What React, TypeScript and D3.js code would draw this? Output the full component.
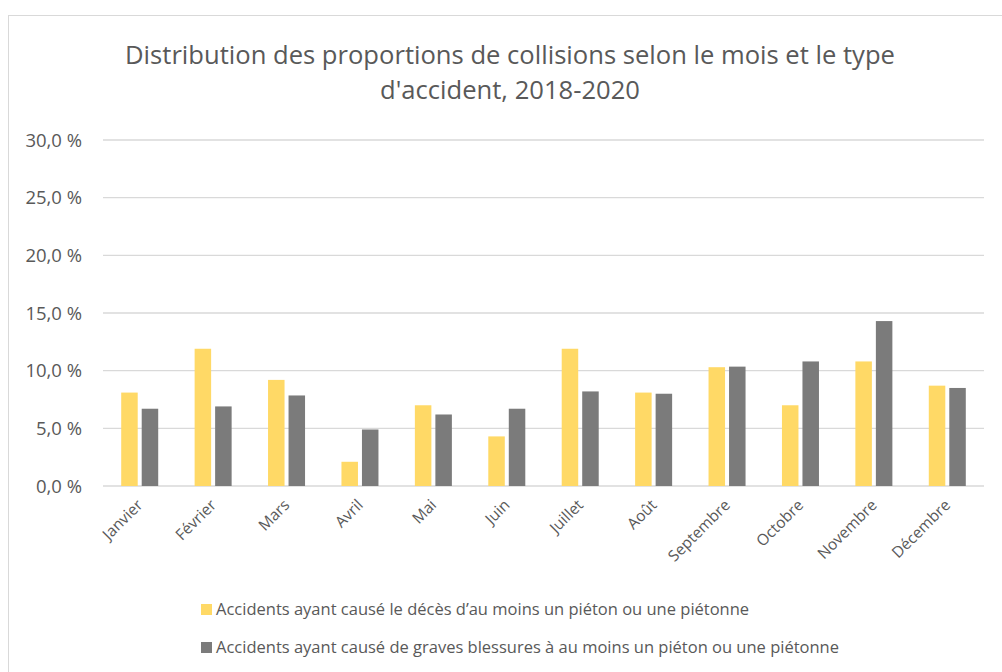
import React from "react";
import * as d3 from "d3";

const months = ["Janvier","Février","Mars","Avril","Mai","Juin","Juillet","Août","Septembre","Octobre","Novembre","Décembre"];
const seriesNames = [
  "Accidents ayant causé le décès d’au moins un piéton ou une piétonne",
  "Accidents ayant causé de graves blessures à au moins un piéton ou une piétonne",
];
const deces = [8.1, 11.9, 9.2, 2.1, 7.0, 4.3, 11.9, 8.1, 10.3, 7.0, 10.8, 8.7];
const blessures = [6.7, 6.9, 7.85, 4.9, 6.2, 6.7, 8.2, 8.0, 10.35, 10.8, 14.3, 8.5];
const yTicks = [0, 5, 10, 15, 20, 25, 30];
const colors = ["#FFD966", "#7B7B7B"];
const titleLines = ["Distribution des proportions de collisions selon le mois et le type", "d'accident, 2018-2020"];

const FONT = "'Open Sans', sans-serif";
const TXT = "#595959";

export default function App() {
  const W = 1002, H = 672;
  const left = 103, right = 984, top = 140, bottom = 486;
  const x0 = d3.scaleBand<string>().domain(months).range([left, right]).paddingInner(0).paddingOuter(0);
  const x1 = d3.scaleBand<number>().domain([0, 1]).range([0, x0.bandwidth()]).paddingInner(0.195).paddingOuter(0.888);
  const y = d3.scaleLinear().domain([0, 30]).range([bottom, top]);
  const series = [deces, blessures];
  const fmt = (v: number) => d3.format(".1f")(v).replace(".", ",") + " %";

  return (
    <svg width={W} height={H} style={{ position: "absolute", left: 0, top: 0, background: "#fff" }}>
      <rect x={8.5} y={15.5} width={W} height={H} fill="#fff" stroke="#D9D9D9" strokeWidth={1} />
      <g fontFamily={FONT} fill={TXT}>
        {titleLines.map((t, i) => (
          <text key={i} x={510} y={64 + i * 35} textAnchor="middle" fontSize={25.6}>{t}</text>
        ))}
      </g>
      {yTicks.map((t) => (
        <g key={t}>
          <line x1={left} x2={right} y1={y(t)} y2={y(t)} stroke="#D9D9D9" strokeWidth={1.3} />
          <text x={82} y={y(t)} dy="0.36em" textAnchor="end" fontFamily={FONT} fontSize={18.5} fill={TXT}>{fmt(t)}</text>
        </g>
      ))}
      {series.map((vals, si) => (
        <g key={si}>
          {vals.map((v, i) => (
            <rect key={i} x={(x0(months[i]) as number) + (x1(si) as number)} y={y(v)} width={x1.bandwidth()} height={y(0) - y(v)}
              fill={colors[si]} />
          ))}
        </g>
      ))}
      {months.map((m) => {
        const cx = (x0(m) as number) + x0.bandwidth() / 2 + 4;
        return (
          <text key={m} transform={`translate(${cx},506) rotate(-45)`} textAnchor="end"
            fontFamily={FONT} fontSize={15.5} fill={TXT}>{m}</text>
        );
      })}
      {seriesNames.map((n, i) => (
        <g key={i} transform={`translate(201,${604 + i * 38})`}>
          <rect x={0} y={0} width={11} height={11} fill={colors[i]} />
          <text x={15} y={11} fontFamily={FONT} fontSize={16.5} fill={TXT}>{n}</text>
        </g>
      ))}
    </svg>
  );
}
